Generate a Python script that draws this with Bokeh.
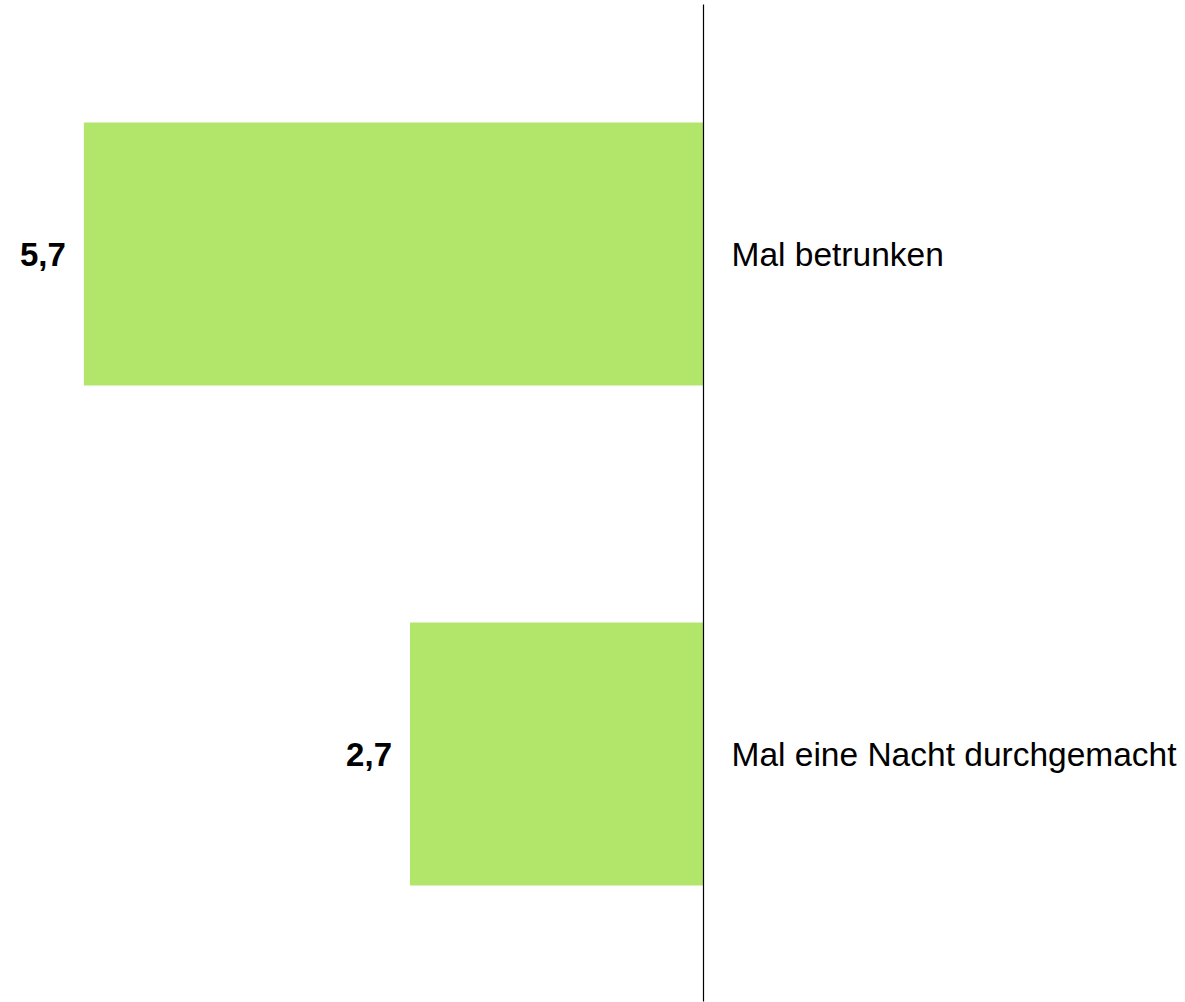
from bokeh.plotting import figure
from bokeh.models import ColumnDataSource, Range1d
from bokeh.core.properties import value
from bokeh.embed import file_html
from bokeh.resources import INLINE

categories = ["Mal betrunken", "Mal eine Nacht durchgemacht"]
values = [5.7, 2.7]
positions = [1, 0]
value_labels = [f"{v:.1f}".replace(".", ",") for v in values]

src = ColumnDataSource(dict(
    y=positions,
    left=[-v for v in values],
    right=[0] * len(values),
    cat=categories,
    lab=value_labels,
))

p = figure(width=1185, height=1002, output_backend="svg", toolbar_location=None,
           x_range=Range1d(-6.467, 4.434), y_range=Range1d(-0.497, 1.507),
           min_border=0, min_border_left=0, min_border_right=0,
           min_border_top=0, min_border_bottom=0)
p.axis.visible = False
p.xgrid.visible = False
p.ygrid.visible = False
p.outline_line_color = None
p.background_fill_color = "white"

p.hbar(y="y", left="left", right="right", height=0.526, source=src,
       fill_color="#b2e66b", line_color=None)

p.segment(x0=[0], y0=[-0.495], x1=[0], y1=[1.499], line_color="black", line_width=1.2)

p.text(x="left", y="y", text="lab", source=src, x_offset=-18,
       text_align="right", text_baseline="middle",
       text_font=value("Liberation Sans"), text_font_style="bold",
       text_font_size="33px", text_color="black")

p.text(x="right", y="y", text="cat", source=src, x_offset=28,
       text_align="left", text_baseline="middle",
       text_font=value("Liberation Sans"),
       text_font_size="33.5px", text_color="black")

open("out.html", "w").write(file_html(p, INLINE))
